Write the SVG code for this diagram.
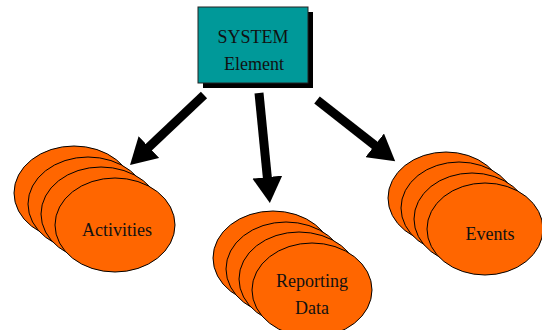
<svg xmlns="http://www.w3.org/2000/svg" width="542" height="330" viewBox="0 0 542 330">
<style>
.el{fill:#FF6600;stroke:#000;stroke-width:1}
.lbl{font-family:"Liberation Serif","DejaVu Serif",serif;font-size:18px;fill:#111;text-anchor:middle}
.shaft{stroke:#000;stroke-width:9;fill:none}
</style>
<defs>
<marker id="ah" markerUnits="userSpaceOnUse" markerWidth="27" markerHeight="30" refX="1" refY="15" orient="auto">
<path d="M0,0 L26,15 L0,30 z" fill="#000"/>
</marker>
</defs>
<rect width="542" height="330" fill="#fff"/>
<g id="system">
<rect x="203" y="12" width="110" height="76" fill="#000"/>
<rect x="198" y="7" width="110" height="76" fill="#009999" stroke="#222" stroke-width="1"/>
<text class="lbl" x="253" y="43">SYSTEM</text>
<text class="lbl" x="254" y="70">Element</text>
</g>
<g id="connectors">
<line class="shaft" x1="204" y1="95" x2="148.2" y2="147.8" marker-end="url(#ah)"/>
<line class="shaft" x1="259" y1="93" x2="267.4" y2="178.1" marker-end="url(#ah)"/>
<line class="shaft" x1="317" y1="100" x2="375.5" y2="145.9" marker-end="url(#ah)"/>
</g>
<g id="activities">
<ellipse class="el" cx="74" cy="193" rx="60" ry="47"/>
<ellipse class="el" cx="88" cy="204" rx="60" ry="47"/>
<ellipse class="el" cx="101" cy="214" rx="60" ry="47"/>
<ellipse class="el" cx="115" cy="225" rx="60" ry="47"/>
<text class="lbl" x="117" y="236">Activities</text>
</g>
<g id="reporting">
<ellipse class="el" cx="273" cy="258" rx="60" ry="47"/>
<ellipse class="el" cx="286" cy="269" rx="60" ry="47"/>
<ellipse class="el" cx="299" cy="279" rx="60" ry="47"/>
<ellipse class="el" cx="312" cy="290" rx="60" ry="47"/>
<text class="lbl" x="312" y="287">Reporting</text>
<text class="lbl" x="312" y="314">Data</text>
</g>
<g id="events">
<ellipse class="el" cx="446" cy="198" rx="58" ry="46"/>
<ellipse class="el" cx="459" cy="208" rx="58" ry="46"/>
<ellipse class="el" cx="472" cy="219" rx="58" ry="46"/>
<ellipse class="el" cx="485" cy="229" rx="58" ry="46"/>
<text class="lbl" x="490" y="240">Events</text>
</g>
</svg>
